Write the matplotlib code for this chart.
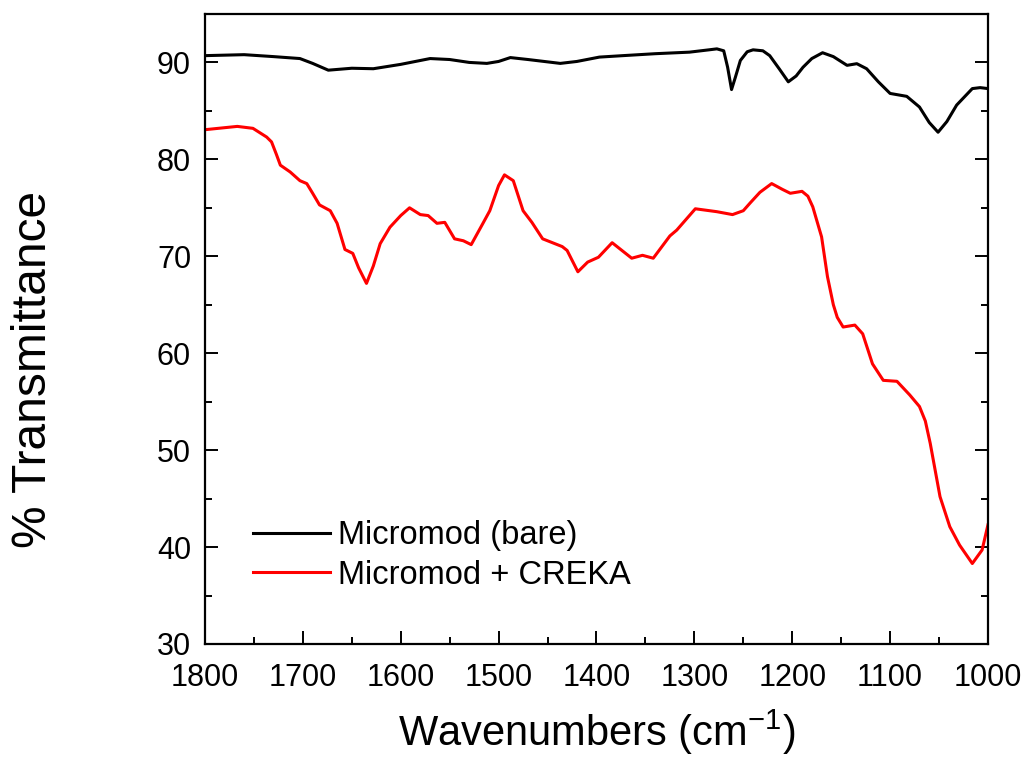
import matplotlib
matplotlib.use("Agg")
import matplotlib.pyplot as plt
from matplotlib.ticker import MultipleLocator

plt.rcParams['font.family'] = ['Liberation Sans', 'DejaVu Sans']
plt.rcParams['mathtext.fontset'] = 'custom'
plt.rcParams['mathtext.rm'] = 'Liberation Sans'
plt.rcParams['mathtext.it'] = 'Liberation Sans:italic'
plt.rcParams['mathtext.bf'] = 'Liberation Sans:bold'

# Micromod (bare)
bare_x = [1800, 1760, 1730, 1703, 1690, 1674, 1650, 1628, 1600, 1570, 1550, 1530,
          1512, 1500, 1488, 1470, 1437, 1420, 1397, 1373, 1340, 1305, 1285, 1277,
          1270, 1266, 1262, 1258, 1253, 1246, 1240, 1230, 1223, 1213, 1204, 1196,
          1189, 1180, 1169, 1158, 1144, 1134, 1124, 1112, 1100, 1083, 1070, 1060,
          1051, 1042, 1032, 1016, 1008, 1000]
bare_y = [90.7, 90.8, 90.6, 90.4, 89.9, 89.2, 89.4, 89.35, 89.8, 90.4, 90.3, 90.0,
          89.9, 90.1, 90.5, 90.3, 89.9, 90.1, 90.55, 90.7, 90.9, 91.06, 91.3, 91.4,
          91.2, 89.5, 87.2, 88.5, 90.2, 91.1, 91.3, 91.2, 90.7, 89.3, 88.0, 88.6,
          89.5, 90.4, 91.0, 90.6, 89.7, 89.87, 89.35, 88.0, 86.8, 86.5, 85.4, 83.8,
          82.8, 83.9, 85.6, 87.3, 87.4, 87.3]

# Micromod + CREKA
creka_x = [1800, 1767, 1751, 1737, 1732, 1727, 1723, 1713, 1703, 1696, 1690, 1683,
           1672, 1665, 1657, 1649, 1643, 1635, 1628, 1621, 1611, 1600, 1591, 1580,
           1572, 1563, 1555, 1545, 1536, 1528, 1516, 1509, 1500, 1494, 1485, 1475,
           1466, 1455, 1435, 1430, 1419, 1409, 1398, 1384, 1374, 1364, 1353, 1342,
           1325, 1318, 1299, 1277, 1261, 1250, 1243, 1233, 1221, 1210, 1202, 1190,
           1184, 1179, 1170, 1164, 1158, 1154, 1148, 1136, 1128, 1118, 1107, 1093,
           1080, 1070, 1064, 1059, 1049, 1039, 1029, 1016, 1006, 1000]
creka_y = [83.06, 83.4, 83.2, 82.3, 81.8, 80.5, 79.4, 78.7, 77.8, 77.5, 76.5, 75.3,
           74.7, 73.4, 70.7, 70.3, 68.8, 67.2, 69.0, 71.3, 73.0, 74.2, 75.0, 74.3,
           74.2, 73.4, 73.5, 71.8, 71.6, 71.2, 73.4, 74.7, 77.3, 78.4, 77.8, 74.7,
           73.5, 71.8, 71.0, 70.6, 68.4, 69.4, 69.9, 71.4, 70.6, 69.8, 70.1, 69.8,
           72.1, 72.7, 74.9, 74.6, 74.3, 74.7, 75.5, 76.6, 77.5, 76.9, 76.5, 76.7,
           76.2, 75.1, 72.0, 67.9, 65.0, 63.7, 62.7, 62.9, 62.0, 58.9, 57.2, 57.1,
           55.7, 54.5, 53.0, 50.7, 45.2, 42.1, 40.2, 38.3, 39.7, 42.3]

fig = plt.figure(figsize=(10.27, 7.63), dpi=100)
ax = fig.add_axes([0.1996, 0.156, 0.7624, 0.8257])

ax.plot(bare_x, bare_y, color='black', lw=2.2, label='Micromod (bare)')
ax.plot(creka_x, creka_y, color='#ff0000', lw=2.2, label='Micromod + CREKA')

ax.set_xlim(1800, 1000)
ax.set_ylim(30, 95)
ax.xaxis.set_major_locator(MultipleLocator(100))
ax.xaxis.set_minor_locator(MultipleLocator(50))
ax.yaxis.set_major_locator(MultipleLocator(10))
ax.yaxis.set_minor_locator(MultipleLocator(5))
ax.tick_params(which='both', direction='in', top=False, right=True, width=1.4,
               labelsize=22)
ax.tick_params(which='major', length=9.5)
ax.tick_params(which='minor', length=5)
ax.tick_params(axis='x', pad=14)
ax.tick_params(axis='y', pad=10)
for s in ax.spines.values():
    s.set_linewidth(1.6)

ax.set_xlabel('Wavenumbers (cm$^{\\mathrm{-1}}$)', fontsize=30, labelpad=10)
ax.set_ylabel('% Transmittance', fontsize=34.5)
ax.yaxis.set_label_coords(-0.19, 0.435)

ax.legend(loc='upper left', bbox_to_anchor=(0.0613, 0.196), frameon=False,
          fontsize=23.5, handlelength=2.36, handletextpad=0.25, labelspacing=0.25,
          borderpad=0, borderaxespad=0)

fig.savefig('out.png', dpi=100)
